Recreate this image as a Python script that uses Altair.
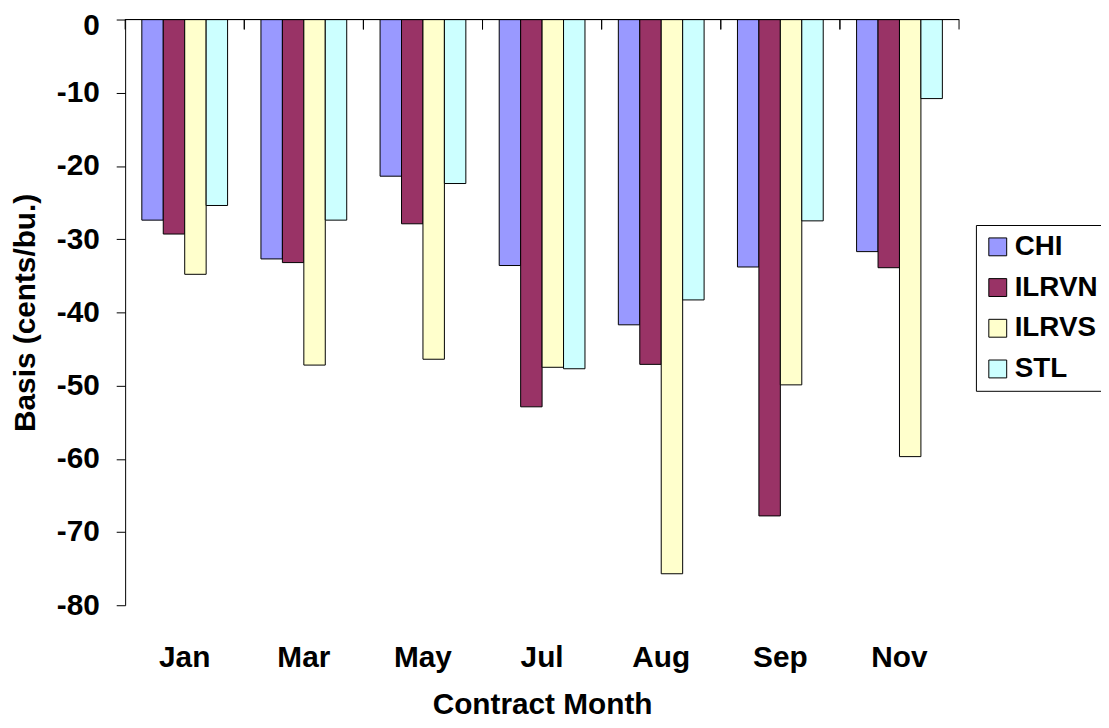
import altair as alt
import pandas as pd

months = ["Jan", "Mar", "May", "Jul", "Aug", "Sep", "Nov"]
series = ["CHI", "ILRVN", "ILRVS", "STL"]
colors = ["#9999FF", "#993366", "#FFFFCC", "#CCFFFF"]
chi = [-27.4, -32.7, -21.4, -33.6, -41.7, -33.8, -31.7]
ilrvn = [-29.3, -33.2, -27.9, -52.9, -47.1, -67.8, -33.9]
ilrvs = [-34.8, -47.2, -46.4, -47.5, -75.7, -49.9, -59.7]
stl = [-25.4, -27.4, -22.4, -47.7, -38.3, -27.5, -10.8]
y_ticks = [0, -10, -20, -30, -40, -50, -60, -70, -80]

rows = []
for s, vals in zip(series, [chi, ilrvn, ilrvs, stl]):
    for m, v in zip(months, vals):
        rows.append({"month": m, "series": s, "value": v})
df = pd.DataFrame(rows)
mdf = pd.DataFrame({"month": months})

FONT = "Liberation Sans"
FS = 30

x_scale = alt.Scale(domain=months, paddingInner=0.28, paddingOuter=0.14)
y_scale = alt.Scale(domain=[-80, 0], nice=False)

bars = alt.Chart(df).mark_bar(stroke="black", strokeWidth=1).encode(
    x=alt.X("month:N", scale=x_scale, sort=months,
            axis=alt.Axis(orient="bottom", domain=False, ticks=False, labelAngle=0,
                          labelFont=FONT, labelFontSize=FS, labelFontWeight="bold",
                          labelColor="black", labelPadding=38, labelBaseline="top",
                          title="Contract Month", titleFont=FONT, titleFontSize=FS,
                          titleFontWeight="bold", titleColor="black", titlePadding=17)),
    xOffset=alt.XOffset("series:N", sort=series, scale=alt.Scale(paddingInner=0, paddingOuter=0)),
    y=alt.Y("value:Q", scale=y_scale,
            axis=alt.Axis(values=y_ticks, labelExpr="'' + datum.value",
                          labelFont=FONT, labelFontSize=FS, labelFontWeight="bold",
                          labelColor="black", labelPadding=17, tickSize=9,
                          labelOffset={"condition": {"test": "datum.value == 0", "value": 6}, "value": 0},
                          tickColor="black", domainColor="black", grid=False,
                          title="Basis (cents/bu.)", titleFont=FONT, titleFontSize=FS,
                          titleFontWeight="bold", titleColor="black",
                          titleX=-100, titleY=295, titleAngle=-90,
                          titleAlign="center", titleBaseline="middle")),
    color=alt.Color("series:N", sort=series,
                    scale=alt.Scale(domain=series, range=colors),
                    legend=alt.Legend(orient="none", legendX=857, legendY=207, title=None,
                                      strokeColor="black", padding=8, symbolType="square",
                                      symbolSize=324, symbolStrokeColor="black",
                                      symbolStrokeWidth=1, symbolOpacity=1,
                                      labelFont=FONT, labelFontSize=28, labelFontWeight="bold",
                                      labelColor="black", labelOffset=3, rowPadding=13,
                                      fillColor="white")),
)

zero_line = alt.Chart(mdf).mark_rule(color="black", strokeWidth=1).encode(
    y=alt.datum(0, scale=y_scale)
)

helper_x = alt.Scale(domain=months, paddingInner=0, paddingOuter=0)
ticks_start = alt.Chart(mdf).mark_rule(color="black", strokeWidth=1).encode(
    x=alt.X("month:N", scale=helper_x, sort=months, bandPosition=0, axis=None),
    y=alt.value(0), y2=alt.value(10),
)
ticks_end = alt.Chart(mdf).mark_rule(color="black", strokeWidth=1).encode(
    x=alt.X("month:N", scale=helper_x, sort=months, bandPosition=1, axis=None),
    y=alt.value(0), y2=alt.value(10),
)
helper = alt.layer(ticks_start, ticks_end)

chart = alt.layer(bars, zero_line, helper).resolve_scale(x="independent").properties(
    width=840, height=590,
    autosize=alt.AutoSizeParams(type="none"),
    padding={"left": 118, "top": 9, "right": 143, "bottom": 113},
).configure_view(stroke=None)

chart.save("out.html", embed_options={"renderer": "svg", "actions": False})
